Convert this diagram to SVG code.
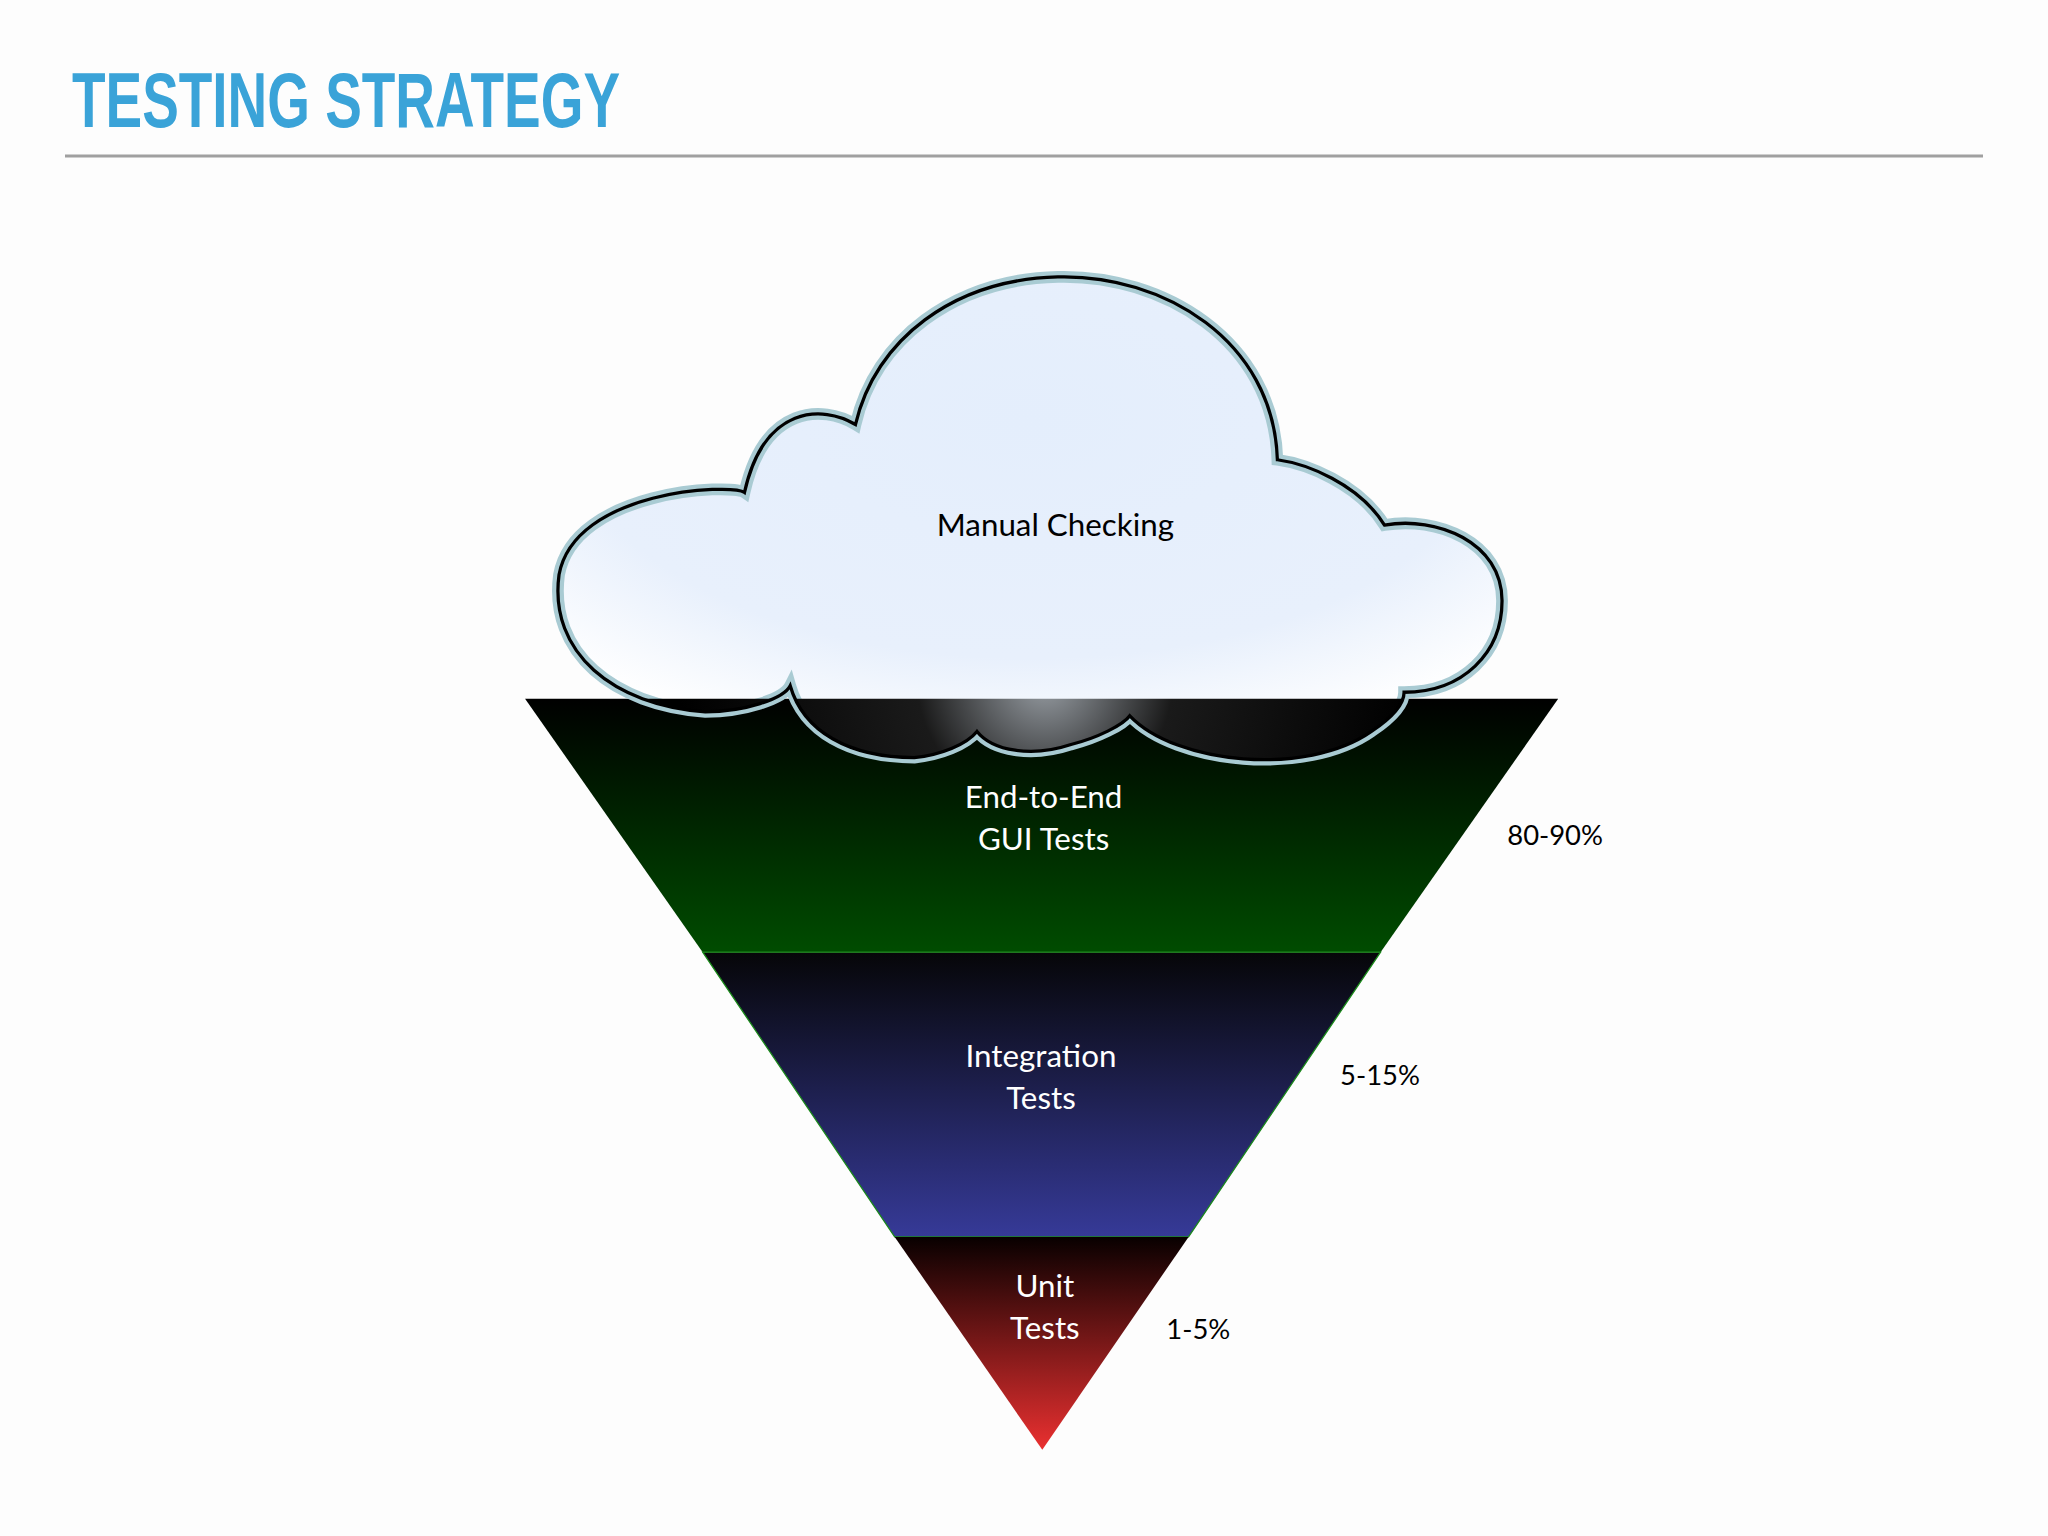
<svg xmlns="http://www.w3.org/2000/svg" width="2048" height="1536" viewBox="0 0 2048 1536">
<defs>
<style>
.lbl{font-family:"Lato","Liberation Sans",sans-serif;font-size:24px;fill:#fff;text-anchor:middle}
.pct{font-family:"Lato","Liberation Sans",sans-serif;font-size:21px;fill:#000}
</style>
<linearGradient id="gG" x1="0" y1="0" x2="0" y2="1"><stop offset="0" stop-color="#000"/><stop offset="1" stop-color="#004c00"/></linearGradient>
<linearGradient id="gB" x1="0" y1="0" x2="0" y2="1"><stop offset="0" stop-color="#060608"/><stop offset="1" stop-color="#363a98"/></linearGradient>
<linearGradient id="gR" x1="0" y1="0" x2="0" y2="1"><stop offset="0" stop-color="#080000"/><stop offset="1" stop-color="#ea3030"/></linearGradient>
<radialGradient id="gC" cx="0.5" cy="0.3" r="0.7"><stop offset="0" stop-color="#e4eefc"/><stop offset="0.7" stop-color="#e8f0fc"/><stop offset="1" stop-color="#ffffff"/></radialGradient>
<radialGradient id="gD" cx="800" cy="520" r="280" gradientUnits="userSpaceOnUse"><stop offset="0" stop-color="#9aa0a6"/><stop offset="0.35" stop-color="#1a1a1a"/><stop offset="1" stop-color="#000"/></radialGradient>
<clipPath id="below"><rect x="0" y="535" width="1568" height="200"/></clipPath>
<path id="cloud" d="M570,377 C560,370 440,375 428,440 C420,500 470,540 540,545 C570,545 600,535 605,525 C615,560 650,580 700,580 C720,578 740,570 748,560 C760,575 790,580 820,570 C840,565 860,555 865,548 C900,585 1000,595 1050,560 C1065,550 1075,540 1075,530 C1120,530 1150,500 1150,460 C1150,415 1100,395 1060,402 C1040,370 1000,355 978,352 C975,260 890,210 810,212 C730,214 670,260 655,325 C630,310 585,310 570,377 Z"/>
</defs>
<rect width="2048" height="1536" fill="#fdfdfd"/>
<text x="72" y="127" font-family="Liberation Sans,sans-serif" font-weight="bold" font-size="78" fill="#3aa3d8" textLength="548" lengthAdjust="spacingAndGlyphs">TESTING STRATEGY</text>
<line x1="65" y1="156" x2="1983" y2="156" stroke="#a0a0a0" stroke-width="3"/>
<g transform="scale(1.30612)">
<g id="green"><polygon points="402,535 1193,535 1057,729 538,729" fill="url(#gG)"/></g>
<g id="blue"><polygon points="538,729 1057,729 910,947 685,947" fill="url(#gB)" stroke="#1a8a1a" stroke-width="1"/></g>
<g id="red"><polygon points="685,947 910,947 798,1110" fill="url(#gR)"/></g>
<g id="cloudnode">
<use href="#cloud" fill="url(#gC)" stroke="#a9cbd3" stroke-width="9"/>
<use href="#cloud" fill="url(#gD)" clip-path="url(#below)"/>
<use href="#cloud" fill="none" stroke="#000" stroke-width="2.5"/>
<text x="808" y="410" font-family="Lato,Liberation Sans,sans-serif" font-size="24" text-anchor="middle" fill="#000">Manual Checking</text>
</g>
<text class="lbl" x="799" y="619">End-to-End</text>
<text class="lbl" x="799" y="651">GUI Tests</text>
<text class="pct" x="1154" y="647">80-90%</text>
<text class="lbl" x="797" y="817">Integration</text>
<text class="lbl" x="797" y="849">Tests</text>
<text class="pct" x="1026" y="831">5-15%</text>
<text class="lbl" x="800" y="993">Unit</text>
<text class="lbl" x="800" y="1025">Tests</text>
<text class="pct" x="893" y="1025">1-5%</text>
</g>
</svg>
